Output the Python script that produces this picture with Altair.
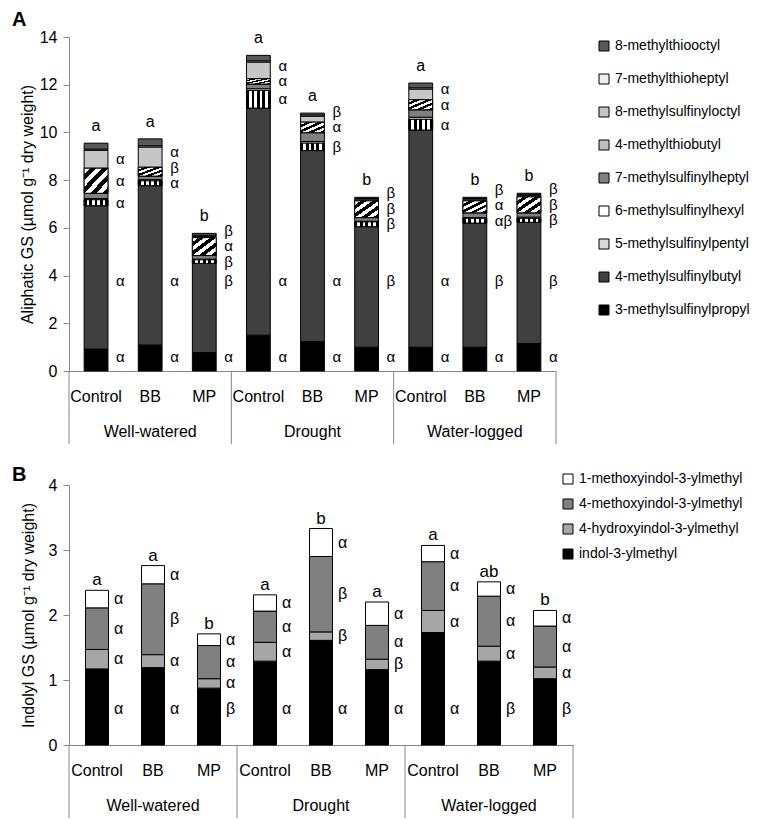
import altair as alt
import pandas as pd

FONT = "Liberation Sans"
AXIS_GREY = "#868686"

conditions = ["Well-watered", "Drought", "Water-logged"]
treatments = ["Control", "BB", "MP"]
keys = [f"{c}|{t}" for c in conditions for t in treatments]

aliphatic = [
    "3-methylsulfinylpropyl", "4-methylsulfinylbutyl", "5-methylsulfinylpentyl",
    "6-methylsulfinylhexyl", "7-methylsulfinylheptyl", "4-methylthiobutyl",
    "8-methylsulfinyloctyl", "7-methylthioheptyl", "8-methylthiooctyl",
]
msp3 = [0.92, 1.09, 0.77, 1.50, 1.23, 1.00, 1.00, 1.00, 1.15]
msb4 = [6.01, 6.68, 3.74, 9.52, 8.01, 5.05, 9.10, 5.20, 5.08]
msp5 = [0.25, 0.20, 0.15, 0.74, 0.31, 0.20, 0.45, 0.20, 0.17]
msh6 = [0.05, 0.05, 0.03, 0.07, 0.07, 0.03, 0.09, 0.03, 0.05]
msh7 = [0.22, 0.15, 0.15, 0.20, 0.37, 0.15, 0.31, 0.20, 0.18]
mtb4 = [1.05, 0.37, 0.75, 0.22, 0.44, 0.70, 0.42, 0.50, 0.67]
mso8 = [0.75, 0.85, 0.05, 0.70, 0.25, 0.05, 0.45, 0.05, 0.05]
mth7 = [0.05, 0.05, 0.05, 0.05, 0.05, 0.05, 0.05, 0.05, 0.05]
mto8 = [0.25, 0.29, 0.08, 0.23, 0.08, 0.05, 0.20, 0.05, 0.05]
aliphatic_values = dict(zip(aliphatic, [msp3, msb4, msp5, msh6, msh7, mtb4, mso8, mth7, mto8]))
aliphatic_colors = ["#000000", "#404040", "#d9d9d9", "#ffffff", "#808080",
                    "#bfbfbf", "#c6c6c6", "#efefef", "#595959"]
letters_A = ["a", "a", "b", "a", "a", "b", "a", "b", "b"]
greek_A = {
    "3-methylsulfinylpropyl": ["α", "α", "α", "α", "α", "α", "α", "α", "α"],
    "4-methylsulfinylbutyl": ["α", "α", "β", "α", "α", "β", "α", "β", "β"],
    "5-methylsulfinylpentyl": ["α", "α", "β", "α", "β", "β", "α", "αβ", "β"],
    "4-methylthiobutyl": ["α", "β", "α", "α", "α", "β", "α", "α", "β"],
    "8-methylsulfinyloctyl": ["α", "α", "β", "α", "β", "β", "α", "β", "β"],
}

indolyl = ["indol-3-ylmethyl", "4-hydroxyindol-3-ylmethyl",
           "4-methoxyindol-3-ylmethyl", "1-methoxyindol-3-ylmethyl"]
i3m = [1.17, 1.19, 0.875, 1.29, 1.61, 1.16, 1.73, 1.29, 1.02]
oh4 = [0.30, 0.20, 0.145, 0.29, 0.13, 0.16, 0.34, 0.23, 0.18]
meo4 = [0.64, 1.09, 0.51, 0.48, 1.16, 0.52, 0.75, 0.77, 0.63]
meo1 = [0.27, 0.28, 0.18, 0.25, 0.43, 0.36, 0.25, 0.22, 0.24]
indolyl_values = dict(zip(indolyl, [i3m, oh4, meo4, meo1]))
indolyl_colors = ["#000000", "#a6a6a6", "#808080", "#ffffff"]
letters_B = ["a", "a", "b", "a", "b", "a", "a", "ab", "b"]
greek_B = {
    "indol-3-ylmethyl": ["α", "α", "β", "α", "α", "α", "α", "β", "β"],
    "4-hydroxyindol-3-ylmethyl": ["α", "α", "α", "α", "β", "β", "α", "α", "α"],
    "4-methoxyindol-3-ylmethyl": ["α", "β", "α", "α", "β", "α", "α", "α", "α"],
    "1-methoxyindol-3-ylmethyl": ["α", "α", "α", "α", "α", "α", "α", "α", "α"],
}


def long_df(comps, vals):
    rows = []
    for j, c in enumerate(comps):
        for i, k in enumerate(keys):
            rows.append({"key": k, "compound": c, "order": j, "value": vals[c][i]})
    return pd.DataFrame(rows)


def label_df(comps, vals, greek, fixed, gap):
    rows = []
    for i, k in enumerate(keys):
        cum = 0.0
        bounds = {}
        for c in comps:
            bounds[c] = (cum, cum + vals[c][i])
            cum += vals[c][i]
        prev = -1e9
        for c in comps:
            if c not in greek:
                continue
            lo, hi = bounds[c]
            y = fixed.get(c, (lo + hi) / 2)
            y = max(y, prev + gap)
            prev = y
            rows.append({"key": k, "y": y, "txt": greek[c][i]})
    return pd.DataFrame(rows)


def stripes(x2, y2, colors, n):
    stops = []
    for b in range(n):
        col = colors[b % 2]
        stops.append(alt.GradientStop(offset=b / n, color=col))
        stops.append(alt.GradientStop(offset=(b + 1) / n, color=col))
    return alt.LinearGradient(gradient="linear", x1=0, y1=0, x2=x2, y2=y2, stops=stops)


def panel(comps, vals, colors, greek, fixed, gap, letters, ymax, ystep, ytitle,
          width, height, tag, legend_xy, row_pad, band, greek_fs, letter_fs,
          greek_dx, letter_dy, title_pad, overlays):
    df = long_df(comps, vals)
    totals = pd.DataFrame({"key": keys,
                           "total": [sum(vals[c][i] for c in comps) for i in range(9)],
                           "letter": letters})
    labs = label_df(comps, vals, greek, fixed, gap)

    xscale = alt.Scale(domain=keys, paddingInner=0, paddingOuter=0)
    xaxis = alt.Axis(title=None, labelExpr="split(datum.label, '|')[1]", labelAngle=0,
                     ticks=False, labelPadding=17, labelFontSize=16, labelColor="black",
                     domainColor=AXIS_GREY, labelFont=FONT, grid=False)
    yscale = alt.Scale(domain=[0, ymax], nice=False)
    yaxis = alt.Axis(title=ytitle, values=list(range(0, ymax + 1, ystep)), grid=False,
                     tickSize=6, tickColor=AXIS_GREY, domainColor=AXIS_GREY,
                     labelFontSize=16, labelPadding=6, labelColor="black", labelFont=FONT,
                     titleFontSize=16, titleFontWeight="normal", titleColor="black",
                     titleFont=FONT, titlePadding=title_pad)

    def X(**kw):
        return alt.X("key:N", scale=xscale, sort=keys, axis=xaxis, **kw)

    def Y(field):
        return alt.Y(field, scale=yscale, axis=yaxis)

    base = alt.Chart(df).transform_stack(
        stack="value", as_=["y0", "y1"], groupby=["key"],
        sort=[alt.SortField("order", order="ascending")])

    legend = alt.Legend(title=None, orient="none", legendX=legend_xy[0], legendY=legend_xy[1],
                        symbolType="square", symbolSize=100, symbolStrokeColor="black",
                        symbolStrokeWidth=1, labelFontSize=14, labelFont=FONT,
                        labelColor="black", rowPadding=row_pad, padding=0, labelOffset=4,
                        labelLimit=400)
    bars = base.mark_bar(stroke="black", strokeWidth=1,
                         width=alt.RelativeBandSize(band)).encode(
        x=X(), y=Y("y0:Q"), y2="y1:Q",
        fill=alt.Fill("compound:N",
                      scale=alt.Scale(domain=comps[::-1], range=colors[::-1]),
                      legend=legend))
    layers = [bars]
    for comp, grad in overlays:
        layers.append(base.transform_filter(alt.datum.compound == comp).mark_bar(
            fill=grad, stroke="black", strokeWidth=1,
            width=alt.RelativeBandSize(band)).encode(x=X(), y=Y("y0:Q"), y2="y1:Q"))

    greek_layer = alt.Chart(labs).mark_text(
        align="left", baseline="middle", dx=greek_dx, fontSize=greek_fs, font=FONT,
        color="black").encode(x=X(), y=Y("y:Q"), text="txt:N")
    letter_layer = alt.Chart(totals).mark_text(
        align="center", baseline="alphabetic", dy=letter_dy, fontSize=letter_fs, font=FONT,
        color="black").encode(x=X(), y=Y("total:Q"), text="letter:N")

    groups = pd.DataFrame({"key": [f"{c}|BB" for c in conditions], "label": conditions})
    group_layer = alt.Chart(groups).mark_text(
        align="center", baseline="middle", fontSize=16, font=FONT, color="black").encode(
        x=X(), y=alt.value(height + 61), text="label:N")

    seps = pd.DataFrame({"key": [f"{c}|Control" for c in conditions]})
    sep_layer = alt.Chart(seps).mark_rule(color=AXIS_GREY, strokeWidth=1).encode(
        x=X(bandPosition=0), y=alt.value(height), y2=alt.value(height + 73))
    end_sep = alt.Chart(pd.DataFrame({"key": [keys[-1]]})).mark_rule(
        color=AXIS_GREY, strokeWidth=1).encode(
        x=alt.value(width), y=alt.value(height), y2=alt.value(height + 73))

    tag_layer = alt.Chart(pd.DataFrame({"t": [tag]})).mark_text(
        align="left", baseline="middle", fontSize=20, fontWeight="bold", font=FONT,
        color="black").encode(x=alt.value(-57), y=alt.value(-17 if tag == "A" else -10),
                              text="t:N")

    layers += [greek_layer, letter_layer, group_layer, sep_layer, end_sep, tag_layer]
    return alt.layer(*layers).properties(width=width, height=height)


diag = stripes(1, 1, ["#ffffff", "#000000"], 8)
vert = stripes(1, 0, ["#000000", "#ffffff"], 9)

chartA = panel(aliphatic, aliphatic_values, aliphatic_colors, greek_A,
               {"3-methylsulfinylpropyl": 0.57, "4-methylsulfinylbutyl": 3.77}, 0.65,
               letters_A, 14, 2, "Aliphatic GS (µmol g⁻¹ dry weight)",
               487, 334, "A", (528, 2), 19, 0.44, 15, 16, 20, -12, 4,
               [("5-methylsulfinylpentyl", vert), ("4-methylthiobutyl", diag)])

chartB = panel(indolyl, indolyl_values, indolyl_colors, greek_B,
               {"indol-3-ylmethyl": 0.55}, 0.3,
               letters_B, 4, 1, "Indolyl GS (µmol g⁻¹ dry weight)",
               504, 260, "B", (492, -13), 11, 0.41, 16, 17, 17, -5, 12, [])

chart = alt.vconcat(chartA, chartB, spacing=20).resolve_scale(
    fill="independent").resolve_legend(fill="independent").properties(
    padding={"left": 4, "top": 2, "right": 0, "bottom": 0}).configure(
    font=FONT).configure_view(stroke="transparent", strokeWidth=0)

chart.save("out.html", embed_options={"renderer": "svg", "actions": False})
